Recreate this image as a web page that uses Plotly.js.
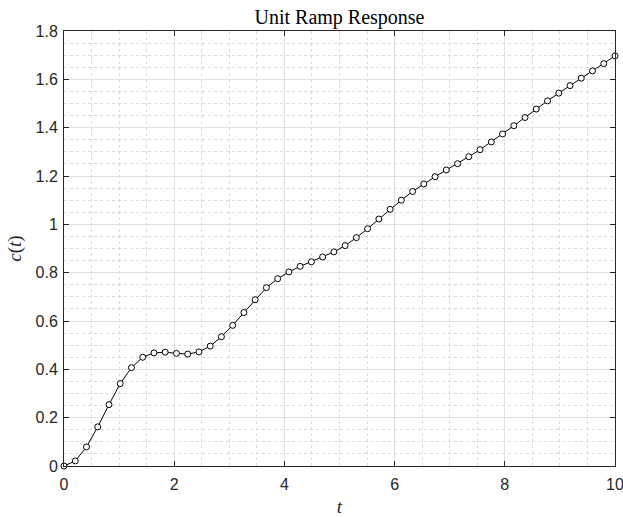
<!DOCTYPE html>
<html>
<head>
<meta charset="utf-8">
<script src="https://cdn.plot.ly/plotly-3.0.1.min.js"></script>
<style>html,body{margin:0;padding:0;background:#fff;}#chart{width:623px;height:517px;}</style>
</head>
<body>
<div id="chart"></div>
<script>
var tValues = [0, 0.2041, 0.4082, 0.6122, 0.8163, 1.0204, 1.2245, 1.4286, 1.6327, 1.8367,
  2.0408, 2.2449, 2.4490, 2.6531, 2.8571, 3.0612, 3.2653, 3.4694, 3.6735, 3.8776,
  4.0816, 4.2857, 4.4898, 4.6939, 4.8980, 5.1020, 5.3061, 5.5102, 5.7143, 5.9184,
  6.1224, 6.3265, 6.5306, 6.7347, 6.9388, 7.1429, 7.3469, 7.5510, 7.7551, 7.9592,
  8.1633, 8.3673, 8.5714, 8.7755, 8.9796, 9.1837, 9.3878, 9.5918, 9.7959, 10];
var cValues = [0, 0.021, 0.079, 0.162, 0.254, 0.341, 0.407, 0.450, 0.468, 0.471,
  0.466, 0.463, 0.472, 0.496, 0.535, 0.582, 0.635, 0.688, 0.738, 0.775,
  0.803, 0.826, 0.845, 0.865, 0.886, 0.912, 0.945, 0.982, 1.022, 1.062,
  1.100, 1.136, 1.167, 1.197, 1.225, 1.251, 1.280, 1.309, 1.341, 1.374,
  1.408, 1.442, 1.477, 1.511, 1.543, 1.574, 1.605, 1.635, 1.665, 1.697];
var xTicks = [0, 2, 4, 6, 8, 10];
var yTicks = [0, 0.2, 0.4, 0.6, 0.8, 1, 1.2, 1.4, 1.6, 1.8];

var trace = {
  x: tValues, y: cValues, type: 'scatter', mode: 'lines+markers',
  line: {color: '#000', width: 1},
  marker: {symbol: 'circle', size: 6, color: '#fff', line: {color: '#000', width: 1}},
  hoverinfo: 'skip', cliponaxis: false
};
var tickFont = {family: 'Liberation Sans, Arial, sans-serif', size: 16, color: '#262626'};
var serif = 'Liberation Serif, DejaVu Serif, serif';
var axisCommon = {
  showline: true, linecolor: '#262626', linewidth: 1, mirror: 'ticks',
  ticks: 'inside', ticklen: 5, tickcolor: '#262626', tickwidth: 1,
  showgrid: true, gridcolor: '#e0e0e0', gridwidth: 1,
  zeroline: false, tickfont: tickFont, ticklabeloverflow: 'allow'
};
var layout = {
  width: 623, height: 517,
  margin: {l: 64, r: 8, t: 31, b: 51},
  paper_bgcolor: '#fff', plot_bgcolor: '#fff',
  showlegend: false,
  title: {text: 'Unit Ramp Response', font: {family: serif, size: 20, color: '#000'},
    x: 0.5, xref: 'paper', y: 0.968, yref: 'container', yanchor: 'middle'},
  xaxis: Object.assign({}, axisCommon, {
    range: [0, 10], tickvals: xTicks, ticktext: xTicks.map(String), ticklabelstandoff: 4,
    minor: {dtick: 0.5, tick0: 0, showgrid: true, gridcolor: '#dadada', griddash: 'dot', gridwidth: 1, ticks: ''},
    title: {text: '<i>t</i>', font: {family: serif, size: 19, color: '#262626'}, standoff: 7}
  }),
  yaxis: Object.assign({}, axisCommon, {
    range: [0, 1.8], tickvals: yTicks, ticktext: yTicks.map(String), ticklabelstandoff: 2,
    minor: {dtick: 0.05, tick0: 0, showgrid: true, gridcolor: '#dadada', griddash: 'dot', gridwidth: 1, ticks: ''},
    title: {text: '<i>c</i>(<i>t</i>)', font: {family: serif, size: 19, color: '#262626'}, standoff: 8}
  })
};
Plotly.newPlot('chart', [trace], layout, {displayModeBar: false, staticPlot: true});
</script>
</body>
</html>
